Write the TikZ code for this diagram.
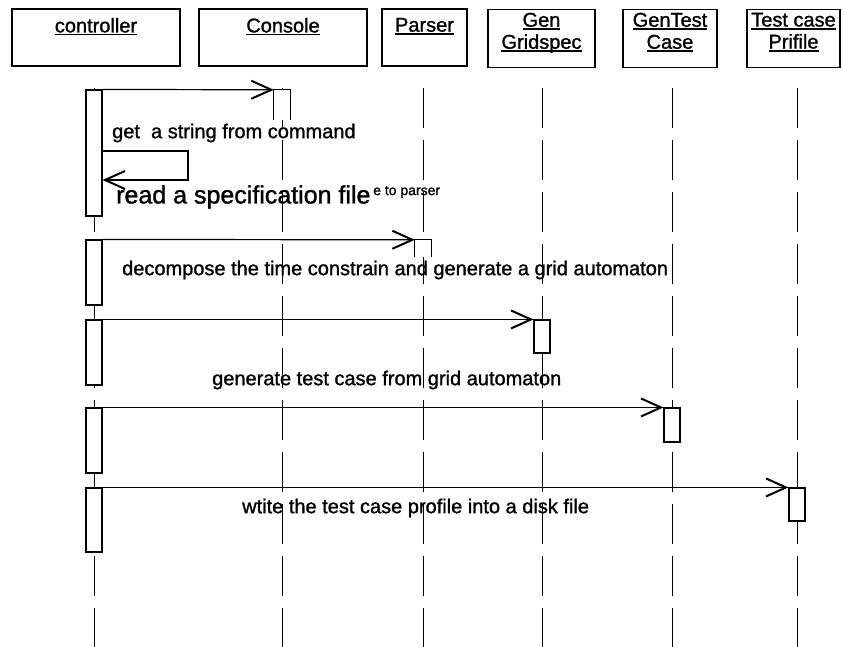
\documentclass[tikz,border=0pt]{standalone}
\usepackage{fontspec}
\setmainfont{Liberation Sans}[BoldFont={Liberation Sans},BoldFeatures={FakeBold=1.2}]
\usetikzlibrary{arrows.meta}
\newsavebox{\ulbox}
\newcommand{\hul}[1]{\sbox{\ulbox}{#1}\rlap{\rule[-3pt]{\wd\ulbox}{1.8pt}}\usebox{\ulbox}}
\begin{document}
\begin{tikzpicture}[x=1pt,y=-1pt,
 hdr/.style={draw, line width=1.1pt, inner sep=0pt},
 lbl/.style={inner sep=0pt, align=center, anchor=north, font=\fontsize{20}{22}\selectfont\bfseries},
 txt/.style={inner sep=0pt, anchor=west, font=\fontsize{20}{24}\selectfont\bfseries},
 act/.style={draw, fill=white, line width=1.1pt, minimum width=16pt, inner sep=0pt},
 openact/.style={fill=white, minimum width=16pt, inner sep=0pt},
 actline/.style={line width=1.1pt},
 lifeline/.style={line width=0.9pt, dash pattern=on 40pt off 12pt},
 msg/.style={line width=1.2pt, -{Straight Barb[length=20pt,width=18pt,line width=2pt]}}
]
\useasboundingbox (0,0) rectangle (843,647);
% header boxes
\node[hdr, minimum width=168pt, minimum height=57pt] (ctrl) at (96,37.5) {};
\node[hdr, minimum width=168pt, minimum height=57pt] (cons) at (283,37.5) {};
\node[hdr, minimum width=85pt, minimum height=57pt] (pars) at (424.5,37.5) {};
\node[hdr, minimum width=107pt, minimum height=58pt] (gen) at (541.5,38.5) {};
\node[hdr, minimum width=94pt, minimum height=58pt] (gtc) at (670,38.5) {};
\node[hdr, minimum width=93pt, minimum height=58pt] (tcp) at (793.5,38.5) {};
\node[lbl] (ctrlL) at (96,17.75) {\hul{controller}};
\node[lbl] (consL) at (283,17.75) {\hul{Console}};
\node[lbl] (parsL) at (424.5,17.75) {\hul{Parser}};
\node[lbl] (genL) at (541.5,12.6) {\hul{Gen}\\\hul{Gridspec}};
\node[lbl] (gtcL) at (670,12.6) {\hul{GenTest}\\\hul{Case}};
\node[lbl] (tcpL) at (793.5,12.6) {\hul{Test case}\\\hul{Prifile}};
% lifelines
\foreach \n/\x in {1/94,2/282,3/423,4/542,5/672,6/797}{
  \coordinate (L\n t) at (\x,88);
  \coordinate (L\n b) at (\x,647);
}
\foreach \n in {1,...,6}{\draw[lifeline] (L\n t) -- (L\n b);}
% activations
\node[act, minimum height=126pt] (a1) at (94,153) {};
\node[openact, minimum height=30pt] (c1) at (282,105) {};
\draw[actline] (c1.south west) -- (c1.north west) -- (c1.north east) -- (c1.south east);
\node[act, minimum height=65pt] (a2) at (94,272.5) {};
\node[openact, minimum height=17pt] (p1) at (423,248.5) {};
\draw[actline] (p1.south west) -- (p1.north west) -- (p1.north east) -- (p1.south east);
\node[act, minimum height=65pt] (a3) at (94,352.5) {};
\node[act, minimum height=33pt] (g1) at (542,336.5) {};
\node[act, minimum height=65pt] (a4) at (94,440.5) {};
\node[act, minimum height=34pt] (t1) at (672,425) {};
\node[act, minimum height=64pt] (a5) at (94,520) {};
\node[act, minimum height=33pt] (f1) at (797,504.5) {};
% messages
\draw[msg] (a1.north east) -- (c1.north west);
\coordinate (s1) at (188,151);
\coordinate (s2) at (188,180);
\draw[msg] (a1.east |- s1) -- (s1) -- (s2) -- (a1.east |- s2);
\draw[msg] (a2.north east) -- (p1.north west);
\draw[msg] (a3.north east) -- (g1.north west);
\draw[msg] (a4.north east) -- (t1.north west);
\draw[msg] (a5.north east) -- (f1.north west);
% message texts
\node[txt] (m1) at (112,133) {get\ \ a string from command};
\node[txt, font=\fontsize{25}{28}\selectfont\bfseries] (m2) at (116,197) {read a specification file};
\node[txt, font=\fontsize{14}{16}\selectfont\bfseries] (m2b) at (373,192) {e to parser};
\node[txt] (m3) at (122,270) {decompose the time constrain and generate a grid automaton};
\node[txt] (m4) at (212,380) {generate test case from grid automaton};
\node[txt] (m5) at (242,508) {wtite the test case profile into a disk file};
\end{tikzpicture}
\end{document}
